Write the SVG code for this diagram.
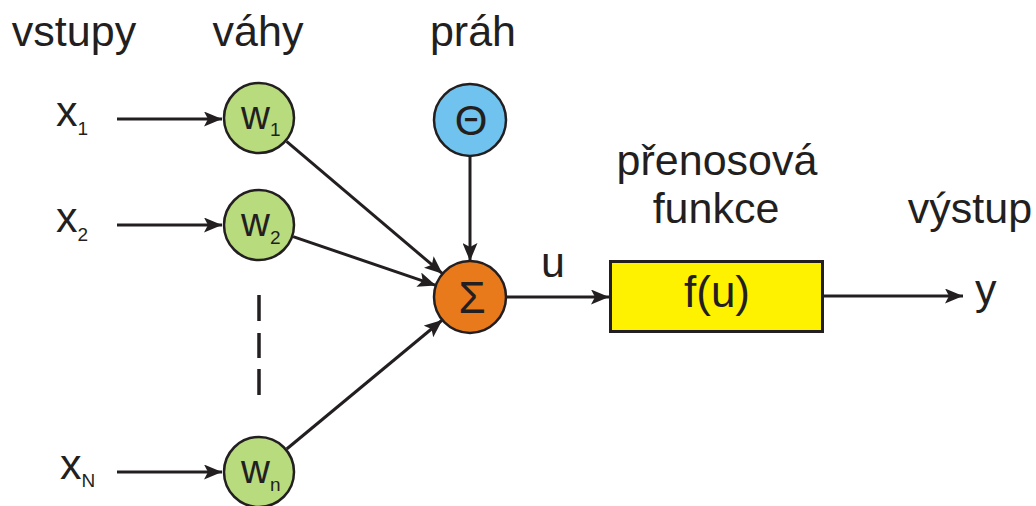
<svg xmlns="http://www.w3.org/2000/svg" width="1036" height="506" viewBox="0 0 1036 506">
<style>
text{font-family:"Liberation Sans",Arial,sans-serif;fill:#231f20}
.lbl{font-size:43px}
.sub{font-size:19px}
.w{font-size:40px}
.con{stroke:#231f20;stroke-width:3;fill:none}
.node{stroke:#231f20;stroke-width:2.5}
</style>
<defs>
<marker id="ah" markerUnits="userSpaceOnUse" viewBox="0 0 18 15" refX="18" refY="7.5" markerWidth="18" markerHeight="15" orient="auto">
<path d="M0,0 L18,7.5 L0,15 L4,7.5 z" fill="#231f20"/>
</marker>
</defs>
<rect width="1036" height="506" fill="#ffffff"/>
<g id="titles">
<text class="lbl" x="74" y="46" text-anchor="middle">vstupy</text>
<text class="lbl" x="258" y="46" text-anchor="middle">váhy</text>
<text class="lbl" x="473" y="46" text-anchor="middle">práh</text>
<text class="lbl" x="717" y="175" text-anchor="middle">přenosová</text>
<text class="lbl" x="716" y="223" text-anchor="middle">funkce</text>
<text class="lbl" x="970" y="223" text-anchor="middle">výstup</text>
</g>
<g id="connectors">
<line class="con" x1="117" y1="119" x2="222" y2="119" marker-end="url(#ah)"/>
<line class="con" x1="117" y1="225" x2="222" y2="225" marker-end="url(#ah)"/>
<line class="con" x1="117" y1="472" x2="222" y2="472" marker-end="url(#ah)"/>
<line class="con" x1="286.5" y1="141.3" x2="442.5" y2="273.7" marker-end="url(#ah)"/>
<line class="con" x1="293.1" y1="236.6" x2="435.9" y2="285.4" marker-end="url(#ah)"/>
<line class="con" x1="286.7" y1="449" x2="442.3" y2="320" marker-end="url(#ah)"/>
<line class="con" x1="470" y1="156" x2="470" y2="261" marker-end="url(#ah)"/>
<line class="con" x1="506" y1="297" x2="609" y2="297" marker-end="url(#ah)"/>
<line class="con" x1="823" y1="296" x2="963" y2="296" marker-end="url(#ah)"/>
<line x1="259" y1="295" x2="259" y2="395" stroke="#231f20" stroke-width="3.5" stroke-dasharray="26 12 25 11"/>
</g>
<g id="x1"><text class="lbl" x="56" y="126">x<tspan class="sub" dy="9">1</tspan></text></g>
<g id="x2"><text class="lbl" x="56" y="232">x<tspan class="sub" dy="9">2</tspan></text></g>
<g id="xN"><text class="lbl" x="60" y="479">x<tspan class="sub" dy="8">N</tspan></text></g>
<g id="w1">
<circle class="node" cx="259" cy="118" r="35" fill="#b8db7d"/>
<text class="w" x="241" y="129">w<tspan class="sub" dy="7">1</tspan></text>
</g>
<g id="w2">
<circle class="node" cx="259" cy="225" r="35" fill="#b8db7d"/>
<text class="w" x="241" y="236">w<tspan class="sub" dy="8">2</tspan></text>
</g>
<g id="wn">
<circle class="node" cx="259" cy="472" r="35" fill="#b8db7d"/>
<text class="w" x="241" y="483">w<tspan class="sub" dy="8">n</tspan></text>
</g>
<g id="theta">
<circle class="node" cx="470" cy="120" r="36" fill="#6fc3ee"/>
<text class="lbl" x="471" y="135" text-anchor="middle" style="font-size:42px">Θ</text>
</g>
<g id="sigma">
<circle class="node" cx="470" cy="297" r="36" fill="#e87a1c"/>
<text class="lbl" x="472" y="313" text-anchor="middle" style="font-size:44px">Σ</text>
</g>
<g id="u-label"><text class="lbl" x="541" y="277">u</text></g>
<g id="fu">
<rect x="610.5" y="261.5" width="212" height="70" fill="#fff200" stroke="#231f20" stroke-width="3"/>
<text class="lbl" x="717" y="307" text-anchor="middle" style="font-size:44px">f(u)</text>
</g>
<g id="y-out"><text class="lbl" x="975" y="304">y</text></g>
</svg>
